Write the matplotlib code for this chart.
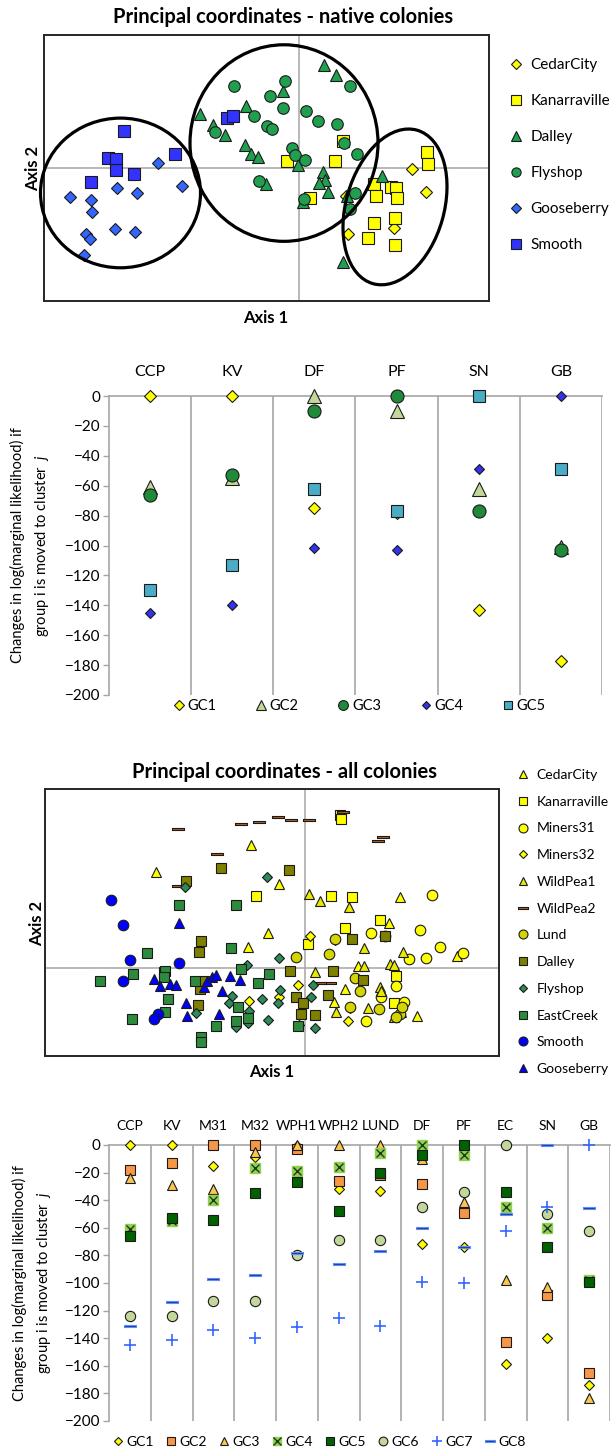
import matplotlib.pyplot as plt
from matplotlib.patches import Ellipse

plt.rcParams['font.family'] = ['Lato', 'DejaVu Sans']
plt.rcParams['mathtext.fontset'] = 'custom'
plt.rcParams['mathtext.it'] = 'Lato:italic'
plt.rcParams['mathtext.rm'] = 'Lato'

W, H = 613, 1450
GREY = '#A6A6A6'
EDGE = '#1A1A1A'
DASH = [(-1, -0.24), (1, -0.24), (1, 0.24), (-1, 0.24), (-1, -0.24)]

# ---------------- panel 1: principal coordinates, native colonies ----------------
nat_cedarcity = [(1.13, -0.01), (1.27, -0.24), (0.95, -0.60), (0.49, -0.66), (0.47, -0.28)]
nat_kanarraville = [(0.44, 0.27), (0.36, 0.07), (-0.12, 0.07), (0.11, -0.30), (0.75, -0.16),
                    (0.92, -0.19), (0.97, -0.20), (0.77, -0.28), (0.98, -0.30), (0.96, -0.50),
                    (0.75, -0.55), (0.69, -0.70), (0.96, -0.77), (1.28, 0.16), (1.29, 0.04)]
nat_dalley = [(0.25, 1.03), (0.37, 0.93), (-0.16, 0.77), (-0.53, 0.62), (-0.99, 0.54),
              (-0.86, 0.43), (-0.74, 0.33), (-0.54, 0.23), (-0.48, 0.14), (-0.41, 0.11),
              (-0.01, 0.03), (0.24, -0.04), (0.26, -0.12), (0.20, -0.15), (0.29, -0.24),
              (-0.33, -0.16), (0.04, -0.34), (0.83, -0.08), (0.44, -0.94), (0.48, -0.28)]
nat_flyshop = [(-0.65, 0.82), (-0.14, 0.87), (-0.29, 0.72), (-0.16, 0.60), (-0.45, 0.52),
               (-0.32, 0.42), (-0.27, 0.39), (0.07, 0.57), (0.19, 0.47), (0.38, 0.44),
               (0.51, 0.82), (0.45, 0.25), (0.58, 0.14), (-0.07, 0.20), (-0.04, 0.13),
               (0.06, 0.08), (-0.84, 0.36), (-0.40, -0.13), (0.05, -0.31), (0.56, -0.25),
               (0.51, -0.41)]
nat_gooseberry = [(-1.41, 0.05), (-1.17, -0.18), (-1.82, -0.20), (-1.62, -0.25), (-2.29, -0.29),
                  (-2.08, -0.32), (-2.07, -0.44), (-1.84, -0.61), (-1.64, -0.64), (-2.13, -0.66),
                  (-2.09, -0.71), (-2.15, -0.87)]
nat_smooth = [(-1.75, 0.37), (-1.91, 0.10), (-1.83, 0.09), (-1.83, -0.02), (-1.24, 0.14),
              (-1.65, -0.06), (-2.08, -0.14), (-0.72, 0.50), (-0.66, 0.52)]
nat_groups = [nat_cedarcity, nat_kanarraville, nat_dalley, nat_flyshop, nat_gooseberry, nat_smooth]
nat_labels = ['CedarCity', 'Kanarraville', 'Dalley', 'Flyshop', 'Gooseberry', 'Smooth']
# cluster outlines: centre x, centre y, width, height, angle
nat_clusters = [(-1.785, -0.25, 1.60, 1.50, 0), (-0.15, 0.25, 1.88, 1.97, 0),
                (0.96, -0.39, 0.98, 1.60, -16)]

# ---------------- panel 2: native colonies, change in log likelihood ----------------
nat_cats = ['CCP', 'KV', 'DF', 'PF', 'SN', 'GB']
nat_gc1 = [0, 0, -75, -78, -143, -177]
nat_gc2 = [-61, -55, 0, -10, -62, -101]
nat_gc3 = [-66, -53, -10, 0, -77, -103]
nat_gc4 = [-145, -140, -102, -103, -49, 0]
nat_gc5 = [-130, -113, -62, -77, 0, -49]

# ---------------- panel 3: principal coordinates, all colonies ----------------
all_cedarcity = [(-0.54, 1.22), (-1.49, 0.95), (-0.26, 0.83), (-0.37, 0.35), (-0.57, 0.21),
                 (0.95, 0.70), (0.84, 0.45), (0.53, 0.02), (0.40, -0.21), (0.29, -0.34),
                 (1.12, -0.48), (1.52, 0.12)]
all_kanarraville = [(-0.49, 0.71), (0.26, 0.71), (0.47, 0.70), (0.75, 0.47), (0.40, 0.40),
                    (0.03, 0.24), (0.91, -0.08), (0.89, -0.35), (0.35, 1.52), (0.36, 1.48)]
all_miners31 = [(1.27, 0.72), (1.15, 0.38), (1.35, 0.21), (1.58, 0.15), (1.21, 0.10),
                (1.04, 0.09), (0.66, 0.35), (0.80, 0.32), (0.91, -0.18), (0.99, -0.34),
                (0.76, -0.29), (0.61, -0.53)]
all_miners32 = [(0.05, 0.32), (0.30, 0.28), (-0.07, -0.17), (-0.56, -0.33), (-0.26, -0.29),
                (0.45, -0.40), (0.43, -0.53)]
all_wildpea1 = [(0.04, 0.73), (0.15, 0.66), (0.44, 0.60), (0.59, 0.20), (0.98, 0.16),
                (0.59, 0.02), (0.85, 0.04), (0.89, 0.03), (0.10, -0.04), (0.75, -0.19),
                (0.63, -0.40), (0.89, -0.49), (0.96, -0.44), (0.31, -0.44), (0.76, -0.23)]
all_wildpea2 = [(-1.27, 1.38), (-0.64, 1.43), (-0.46, 1.45), (-0.27, 1.50), (-0.14, 1.47),
                (0.04, 1.47), (0.38, 1.55), (0.73, 1.26), (0.78, 1.30), (-0.88, 1.13),
                (-1.27, 0.81), (0.25, -0.15), (0.15, -0.15)]
all_lund = [(0.24, 0.14), (-0.09, 0.11), (0.55, -0.23), (0.50, -0.10), (0.45, -0.39),
            (0.74, -0.41), (0.95, -0.46), (0.91, -0.49), (0.30, 0.29), (0.97, -0.39)]
all_dalley = [(-0.84, 0.99), (-0.16, 0.97), (-1.19, 0.86), (-1.04, 0.27), (-1.06, 0.16),
              (0.47, 0.29), (0.80, 0.32), (-0.15, -0.03), (0.28, -0.03), (0.58, -0.12),
              (-0.09, -0.29), (-0.02, -0.35), (0.23, -0.27), (0.10, -0.47), (-0.04, -0.46),
              (-1.05, -0.21), (-1.07, -0.37), (-1.41, -0.04), (-1.01, -0.13)]
all_flyshop = [(-0.38, 0.90), (-1.20, 0.80), (-0.26, 0.10), (-0.58, 0.03), (-0.25, -0.22),
               (-0.43, -0.31), (-0.27, -0.35), (-0.73, -0.28), (-0.76, -0.35), (-0.56, -0.43),
               (-1.09, -0.45), (-0.37, -0.52), (-0.69, -0.59), (-0.57, -0.55), (-0.06, -0.57),
               (0.10, -0.60), (0.08, -0.17), (0.06, -0.29)]
all_eastcreek = [(-1.26, 0.62), (-0.69, 0.62), (-1.58, 0.15), (-0.74, 0.20), (-2.05, -0.13),
                 (-1.72, -0.06), (-1.40, -0.03), (-1.41, -0.09), (-1.10, -0.13), (-0.64, -0.01),
                 (-0.47, -0.15), (-0.36, -0.06), (-1.37, -0.31), (-1.40, -0.44), (-1.73, -0.51),
                 (-0.89, -0.58), (-1.04, -0.69), (-1.04, -0.74), (-0.67, -0.39), (-0.69, -0.53),
                 (-0.57, -0.50), (-0.07, -0.58)]
all_smooth = [(-1.94, 0.67), (-1.82, 0.43), (-1.75, 0.08), (-1.26, 0.05), (-1.82, -0.13),
              (-1.47, -0.46), (-1.51, -0.51)]
all_gooseberry = [(-1.26, 0.45), (-1.51, -0.11), (-1.45, -0.18), (-1.35, -0.16), (-1.29, -0.17),
                  (-1.01, -0.19), (-0.98, -0.13), (-0.93, -0.09), (-0.89, -0.07), (-0.75, -0.08),
                  (-0.65, -0.12), (-0.83, -0.23), (-1.19, -0.35), (-1.18, -0.48), (-0.86, -0.46)]
all_groups = [all_cedarcity, all_kanarraville, all_miners31, all_miners32, all_wildpea1,
              all_wildpea2, all_lund, all_dalley, all_flyshop, all_eastcreek, all_smooth,
              all_gooseberry]
all_labels = ['CedarCity', 'Kanarraville', 'Miners31', 'Miners32', 'WildPea1', 'WildPea2',
              'Lund', 'Dalley', 'Flyshop', 'EastCreek', 'Smooth', 'Gooseberry']

# ---------------- panel 4: all colonies, change in log likelihood ----------------
all_cats = ['CCP', 'KV', 'M31', 'M32', 'WPH1', 'WPH2', 'LUND', 'DF', 'PF', 'EC', 'SN', 'GB']
all_gc1 = [0, 0, -15, -9, -1, -32, -33, -72, -74, -159, -140, -174]
all_gc2 = [-18, -13, 0, 0, -3, -26, -22, -28, -49, -143, -109, -165]
all_gc3 = [-24, -29, -32, -5, 0, 0, 0, -10, -41, -98, -103, -183]
all_gc4 = [-61, -55, -40, -17, -19, -16, -6, 0, -7, -45, -60, -98]
all_gc5 = [-66, -53, -54, -35, -27, -48, -20, -7, 0, -34, -74, -99]
all_gc6 = [-124, -124, -113, -113, -80, -69, -69, -45, -34, 0, -50, -62]
all_gc7 = [-145, -141, -134, -140, -132, -125, -131, -99, -100, -62, -45, 0]
all_gc8 = [-131, -114, -97, -94, -78, -86, -77, -60, -74, -50, 0, -46]


def px_axes(fig, left, top, right, bottom):
    return fig.add_axes([left / W, 1 - bottom / H, (right - left) / W, (bottom - top) / H])


def pcoa_panel(ax, groups, labels, styles, xlim, ylim):
    handles = []
    for pts, label, (marker, face, ms) in zip(groups, labels, styles):
        xs = [p[0] for p in pts]
        ys = [p[1] for p in pts]
        h, = ax.plot(xs, ys, ls='none', marker=marker, ms=ms, mfc=face, mec=EDGE,
                     mew=0.8, label=label, zorder=3)
        handles.append(h)
    ax.axhline(0, color=GREY, lw=1.1, zorder=1)
    ax.axvline(0, color=GREY, lw=1.1, zorder=1)
    ax.set_xlim(xlim)
    ax.set_ylim(ylim)
    ax.set_xticks([])
    ax.set_yticks([])
    for s in ax.spines.values():
        s.set_color('#262626')
        s.set_linewidth(1.4)
    return handles


def strip_panel(ax, cats, series, styles, label_pad):
    xs = [i + 0.5 for i in range(len(cats))]
    handles = []
    for vals, st in zip(series, styles):
        marker, face, ms = st[:3]
        edge = st[3] if len(st) > 3 else EDGE
        if marker == 'sqx':
            sq, = ax.plot(xs, vals, ls='none', marker='s', ms=ms, mfc=face, mec=face,
                          clip_on=False, zorder=3)
            xx, = ax.plot(xs, vals, ls='none', marker='x', ms=ms * 0.85, mec='#1F3A1F',
                          mew=1.0, clip_on=False, zorder=3)
            handles.append((sq, xx))
        elif marker == '+':
            h, = ax.plot(xs, vals, ls='none', marker='+', ms=ms, mec=face, mew=1.2,
                         clip_on=False, zorder=3)
            handles.append(h)
        else:
            h, = ax.plot(xs, vals, ls='none', marker=marker, ms=ms, mfc=face, mec=edge,
                         mew=0.8, clip_on=False, zorder=3)
            handles.append(h)
    ax.set_xlim(0, len(cats))
    ax.set_ylim(-200, 0)
    ax.set_yticks(range(-200, 1, 20))
    ax.xaxis.tick_top()
    ax.set_xticks(xs)
    ax.set_xticklabels(cats)
    ax.tick_params(axis='x', length=0, pad=label_pad)
    ax.tick_params(axis='y', length=4, color=GREY, width=1, labelsize=11, pad=2)
    for b in range(1, len(cats) + 1):
        ax.axvline(b, color=GREY, lw=1.2, zorder=0)
    ax.spines['top'].set_color(GREY)
    ax.spines['left'].set_color(GREY)
    ax.spines['top'].set_linewidth(1.2)
    ax.spines['left'].set_linewidth(1.2)
    ax.spines['right'].set_visible(False)
    ax.spines['bottom'].set_visible(False)
    ax.set_ylabel('Changes in log(marginal likelihood) if\ngroup i is moved to cluster  $j$',
                  fontsize=10.5, linespacing=1.6)
    return handles


fig = plt.figure(figsize=(W / 100, H / 100), dpi=100)

# ---- panel 1 ----
ax1 = px_axes(fig, 44, 35, 489, 301)
nat_styles = [('D', '#FFFF00', 6.0), ('s', '#FFFF00', 8.5), ('^', '#20A04F', 8.5),
              ('o', '#20A04F', 8.3), ('D', '#3366FF', 5.8), ('s', '#3333FF', 8.5)]
h1 = pcoa_panel(ax1, nat_groups, nat_labels, nat_styles, (-2.55, 1.90), (-1.333, 1.333))
for cx, cy, w, h, ang in nat_clusters:
    ax1.add_patch(Ellipse((cx, cy), w, h, angle=ang, fill=False, ec='black', lw=2.3,
                          clip_on=False, zorder=4))
fig.text(283 / W, 1 - 17 / H, 'Principal coordinates - native colonies', ha='center',
         va='center', fontsize=14.5, fontweight='bold')
fig.text(266 / W, 1 - 318 / H, 'Axis 1', ha='center', va='center', fontsize=12,
         fontweight='bold')
fig.text(33 / W, 1 - 168 / H, 'Axis 2', ha='center', va='center', fontsize=12,
         fontweight='bold', rotation=90)
fig.legend(h1, nat_labels, loc='upper left', bbox_to_anchor=(509 / W, 1 - 58 / H),
           frameon=False, fontsize=11, labelspacing=1.44, handlelength=0.9,
           handletextpad=0.5, borderpad=0, borderaxespad=0, markerscale=0.8)

# ---- panel 2 ----
ax2 = px_axes(fig, 109, 396, 602, 695)
nat_gc_styles = [('D', '#FFFF00', 6.6), ('^', '#C4D79B', 9.4), ('o', '#1F8B3A', 9.4),
                 ('D', '#3333EE', 5.1), ('s', '#4BACC6', 8.6)]
h2 = strip_panel(ax2, nat_cats, [nat_gc1, nat_gc2, nat_gc3, nat_gc4, nat_gc5],
                 nat_gc_styles, 12)
ax2.tick_params(axis='x', labelsize=11.5)
ax2.yaxis.set_label_coords(-0.118, 0.5)
fig.legend(h2, ['GC1', 'GC2', 'GC3', 'GC4', 'GC5'], loc='center left',
           bbox_to_anchor=(173 / W, 1 - 706 / H), ncol=5, frameon=False, fontsize=10.5,
           handlelength=0.8, handletextpad=0.2, columnspacing=2.65, borderpad=0,
           borderaxespad=0, markerscale=0.75)

# ---- panel 3 ----
ax3 = px_axes(fig, 45, 789, 499, 1056)
all_styles = [('^', '#FFFF00', 7.4), ('s', '#FFFF00', 7.4), ('o', '#FFFF00', 7.6),
              ('D', '#FFFF00', 4.8), ('^', '#E8E800', 7.4), (DASH, '#C0601A', 8.8),
              ('o', '#D4D400', 7.6), ('s', '#7F7F00', 7.4), ('D', '#2E8B57', 4.8),
              ('s', '#2E8B3E', 7.4), ('o', '#0000FF', 7.6), ('^', '#0000FF', 7.4)]
h3 = pcoa_panel(ax3, all_groups, all_labels, all_styles, (-2.596, 1.945), (-0.883, 1.783))
fig.text(284 / W, 1 - 772 / H, 'Principal coordinates - all colonies', ha='center',
         va='center', fontsize=14.5, fontweight='bold')
fig.text(272 / W, 1 - 1072 / H, 'Axis 1', ha='center', va='center', fontsize=12,
         fontweight='bold')
fig.text(37 / W, 1 - 923 / H, 'Axis 2', ha='center', va='center', fontsize=12,
         fontweight='bold', rotation=90)
fig.legend(h3, all_labels, loc='upper left', bbox_to_anchor=(517 / W, 1 - 769 / H),
           frameon=False, fontsize=10, labelspacing=1.06, handlelength=0.9,
           handletextpad=0.5, borderpad=0, borderaxespad=0, markerscale=0.85)

# ---- panel 4 ----
ax4 = px_axes(fig, 109, 1145, 610, 1421)
all_gc_styles = [('D', '#FFFF00', 4.8), ('s', '#F79646', 7.4), ('^', '#F9C74F', 7.6),
                 ('sqx', '#92D050', 7.6), ('s', '#006100', 7.4), ('o', '#C4D79B', 7.4),
                 ('+', '#3366FF', 8.5), (DASH, '#1F3C88', 8.0, '#5B8CFF')]
h4 = strip_panel(ax4, all_cats, [all_gc1, all_gc2, all_gc3, all_gc4, all_gc5, all_gc6,
                                 all_gc7, all_gc8], all_gc_styles, 9)
ax4.tick_params(axis='x', labelsize=10)
ax4.yaxis.set_label_coords(-0.112, 0.5)
fig.legend(h4, ['GC1', 'GC2', 'GC3', 'GC4', 'GC5', 'GC6', 'GC7', 'GC8'], loc='center left',
           bbox_to_anchor=(112 / W, 1 - 1442 / H), ncol=8, frameon=False, fontsize=10,
           handlelength=0.8, handletextpad=0.2, columnspacing=0.85, borderpad=0,
           borderaxespad=0, markerscale=0.85)

fig.savefig('out.png', dpi=100)
